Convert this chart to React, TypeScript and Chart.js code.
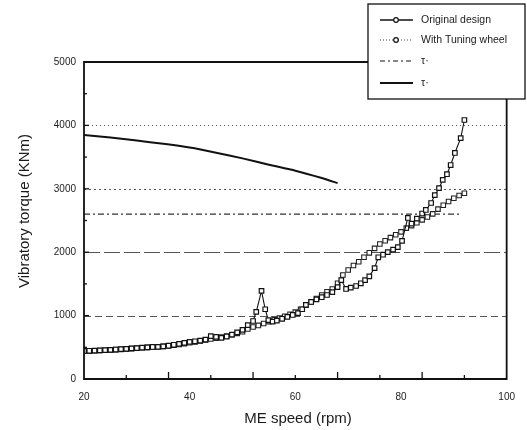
import React, { useEffect, useRef } from "react";
import { Chart, registerables } from "chart.js";

Chart.register(...registerables);

// ---- data ----
const rpmOriginal = [20,21,22,23,24,25,26,27,28,29,30,31,32,33,34,35,36,37,38,39,40,41,42,43,44,45,46,47,48,49,50,51,52,52.6,53.6,54.3,54.9,55.7,56.5,57.5,58.5,59.5,60.5,61.3,62,63,64,65,66,67,68,68.7,69.6,70.5,71.5,72.4,73.2,74,75,75.7,76.6,77.5,78.5,79.4,80.2,81.3,82,83,84,84.7,85.7,86.4,87.2,87.9,88.7,89.4,90.2,91.3,92];
const torqueOriginal = [442,445,448,452,456,460,465,470,476,482,488,494,500,505,508,515,525,540,555,570,585,595,605,620,675,665,648,670,700,735,775,850,915,1060,1390,1100,930,905,920,950,980,1010,1040,1100,1170,1215,1255,1290,1325,1370,1450,1560,1420,1440,1467,1510,1560,1620,1750,1920,1960,2000,2040,2080,2180,2540,2450,2530,2610,2666,2776,2900,3010,3140,3230,3375,3565,3800,4085];

const rpmTuning = [20,21,22,23,24,25,26,27,28,29,30,31,32,33,34,35,36,37,38,39,40,41,42,43,44,45,46,47,48,49,50,51,52,53,54,55,56,57,58,59,60,61,62,63,64,65,66,67,68,69,70,71,72,73,74,75,76,77,78,79,80,81,82,83,84,85,86,87,88,89,90,91,92];
const torqueTuning = [440,443,446,450,454,458,463,468,474,480,486,492,498,503,508,514,522,532,545,558,572,586,600,615,630,645,660,678,698,720,745,790,820,845,875,905,935,960,990,1020,1055,1100,1165,1215,1270,1325,1375,1420,1510,1640,1720,1790,1850,1920,1990,2060,2130,2180,2230,2275,2320,2380,2420,2465,2510,2555,2605,2680,2740,2800,2850,2895,2930];

const rpmTauRef = [20, 91];
const tauRef = [2600, 2600];

const rpmTauLimit = [20,25,30,35,40,45,50,55,60,65,68];
const tauLimit = [3850,3810,3760,3710,3650,3570,3480,3380,3285,3170,3090];

const gridValues = [1000, 2000, 3000, 4000];
const gridDashes = [[7, 4], [16, 4], [2, 3], [1, 3]];
const xMinorTicks = [28, 36, 44, 52, 60, 68, 76, 84, 92];
const yMinorTicks = [500, 1500, 2500, 3500, 4500];

const legendLabels = ["Original design", "With Tuning wheel", "τ·", "τ·"];

const FONT = "'Liberation Sans', Arial, sans-serif";
const INK = "#111";

const pts = (xs: number[], ys: number[]) => xs.map((x, i) => ({ x, y: ys[i] }));

const decorPlugin = {
  id: "decor",
  beforeDatasetsDraw(chart: any) {
    const { ctx, chartArea: a, scales } = chart;
    ctx.save();
    gridValues.forEach((v, i) => {
      const y = Math.round(scales.y.getPixelForValue(v)) + 0.5;
      ctx.beginPath();
      ctx.setLineDash(gridDashes[i]);
      ctx.strokeStyle = "#555";
      ctx.lineWidth = 1;
      ctx.moveTo(a.left, y);
      ctx.lineTo(a.right, y);
      ctx.stroke();
    });
    ctx.restore();
  },
  afterDraw(chart: any) {
    const { ctx, chartArea: a, scales } = chart;
    ctx.save();
    ctx.setLineDash([]);
    // frame
    ctx.strokeStyle = INK;
    ctx.lineWidth = 1.8;
    ctx.beginPath();
    ctx.rect(a.left, a.top, a.right - a.left, a.bottom - a.top);
    ctx.stroke();
    // inner ticks
    ctx.lineWidth = 1.3;
    xMinorTicks.forEach((v, i) => {
      const x = scales.x.getPixelForValue(v);
      const len = i % 2 === 1 ? 7 : 4;
      ctx.beginPath();
      ctx.moveTo(x, a.bottom);
      ctx.lineTo(x, a.bottom - len);
      ctx.stroke();
    });
    yMinorTicks.forEach((v) => {
      const y = scales.y.getPixelForValue(v);
      ctx.beginPath();
      ctx.moveTo(a.left, y);
      ctx.lineTo(a.left + 3, y);
      ctx.stroke();
    });
    gridValues.forEach((v) => {
      const y = scales.y.getPixelForValue(v);
      ctx.beginPath();
      ctx.moveTo(a.left, y);
      ctx.lineTo(a.left + 5, y);
      ctx.stroke();
    });
    // axis titles
    ctx.fillStyle = "#1a1a1a";
    ctx.font = `15px ${FONT}`;
    ctx.textAlign = "center";
    ctx.textBaseline = "middle";
    ctx.fillText("ME speed (rpm)", 298, 419);
    ctx.save();
    ctx.translate(25, 211);
    ctx.rotate(-Math.PI / 2);
    ctx.fillText("Vibratory torque (KNm)", 0, 0);
    ctx.restore();

    // legend box
    const bx = 368, by = 4, bw = 157, bh = 95;
    ctx.fillStyle = "#fff";
    ctx.fillRect(bx, by, bw, bh);
    ctx.strokeStyle = INK;
    ctx.lineWidth = 1.3;
    ctx.strokeRect(bx, by, bw, bh);
    const rows = [20, 40, 61, 83];
    const dashes = [[], [1, 2], [5, 3, 2, 3], []];
    const widths = [1.3, 1.2, 1.2, 2];
    ctx.font = `10.5px ${FONT}`;
    ctx.textAlign = "left";
    rows.forEach((ry, i) => {
      ctx.beginPath();
      ctx.setLineDash(dashes[i]);
      ctx.lineWidth = widths[i];
      ctx.strokeStyle = i === 1 ? "#444" : INK;
      ctx.moveTo(380, ry);
      ctx.lineTo(413, ry);
      ctx.stroke();
      ctx.setLineDash([]);
      if (i < 2) {
        ctx.beginPath();
        ctx.fillStyle = "#fff";
        ctx.strokeStyle = INK;
        ctx.lineWidth = 1.2;
        ctx.arc(396, ry, 2.3, 0, Math.PI * 2);
        ctx.fill();
        ctx.stroke();
      }
      ctx.fillStyle = "#1a1a1a";
      ctx.fillText(legendLabels[i], 421, ry + 0.5);
    });
    ctx.restore();
  },
};

export default function App() {
  const ref = useRef<HTMLCanvasElement | null>(null);
  useEffect(() => {
    document.body.style.margin = "0";
    const canvas = ref.current!;
    const chart = new Chart(canvas, {
      type: "line",
      data: {
        datasets: [
          {
            label: legendLabels[0],
            data: pts(rpmOriginal, torqueOriginal),
            borderColor: INK,
            borderWidth: 1.1,
            pointStyle: "rect",
            pointRadius: 3.2,
            pointBorderWidth: 1.2,
            pointBackgroundColor: "#fff",
            pointBorderColor: INK,
            tension: 0,
            order: 1,
          },
          {
            label: legendLabels[1],
            data: pts(rpmTuning, torqueTuning),
            borderColor: "#444",
            borderWidth: 1,
            borderDash: [1, 2],
            pointStyle: "rect",
            pointRadius: 3.2,
            pointBorderWidth: 1.1,
            pointBackgroundColor: "#fff",
            pointBorderColor: "#222",
            tension: 0,
            order: 2,
          },
          {
            label: legendLabels[2],
            data: pts(rpmTauRef, tauRef),
            borderColor: "#333",
            borderWidth: 1.2,
            borderDash: [6, 3, 2, 3],
            pointRadius: 0,
            order: 3,
          },
          {
            label: legendLabels[3],
            data: pts(rpmTauLimit, tauLimit),
            borderColor: INK,
            borderWidth: 2,
            pointRadius: 0,
            tension: 0.2,
            order: 3,
          },
        ],
      },
      options: {
        responsive: false,
        animation: false,
        parsing: false as any,
        layout: { padding: { top: 62, right: 19, left: 0, bottom: 0 } },
        plugins: { legend: { display: false }, tooltip: { enabled: false } },
        scales: {
          x: {
            type: "linear",
            min: 20,
            max: 100,
            ticks: { stepSize: 20, padding: 12, color: "#222", font: { family: FONT, size: 10 }, callback: (v: any) => String(v) },
            grid: { display: false, drawTicks: false },
            border: { display: false },
            afterFit: (s: any) => { s.height = 51; },
          },
          y: {
            type: "linear",
            min: 0,
            max: 5000,
            ticks: { stepSize: 1000, padding: 8, color: "#222", font: { family: FONT, size: 10 }, callback: (v: any) => String(v) },
            grid: { display: false, drawTicks: false },
            border: { display: false },
            afterFit: (s: any) => { s.width = 84; },
          },
        },
      },
      plugins: [decorPlugin],
    });
    return () => chart.destroy();
  }, []);
  return (
    <div style={{ width: 527, height: 430, position: "relative", background: "#fff" }}>
      <canvas ref={ref} width={527} height={430} style={{ display: "block" }} />
    </div>
  );
}
